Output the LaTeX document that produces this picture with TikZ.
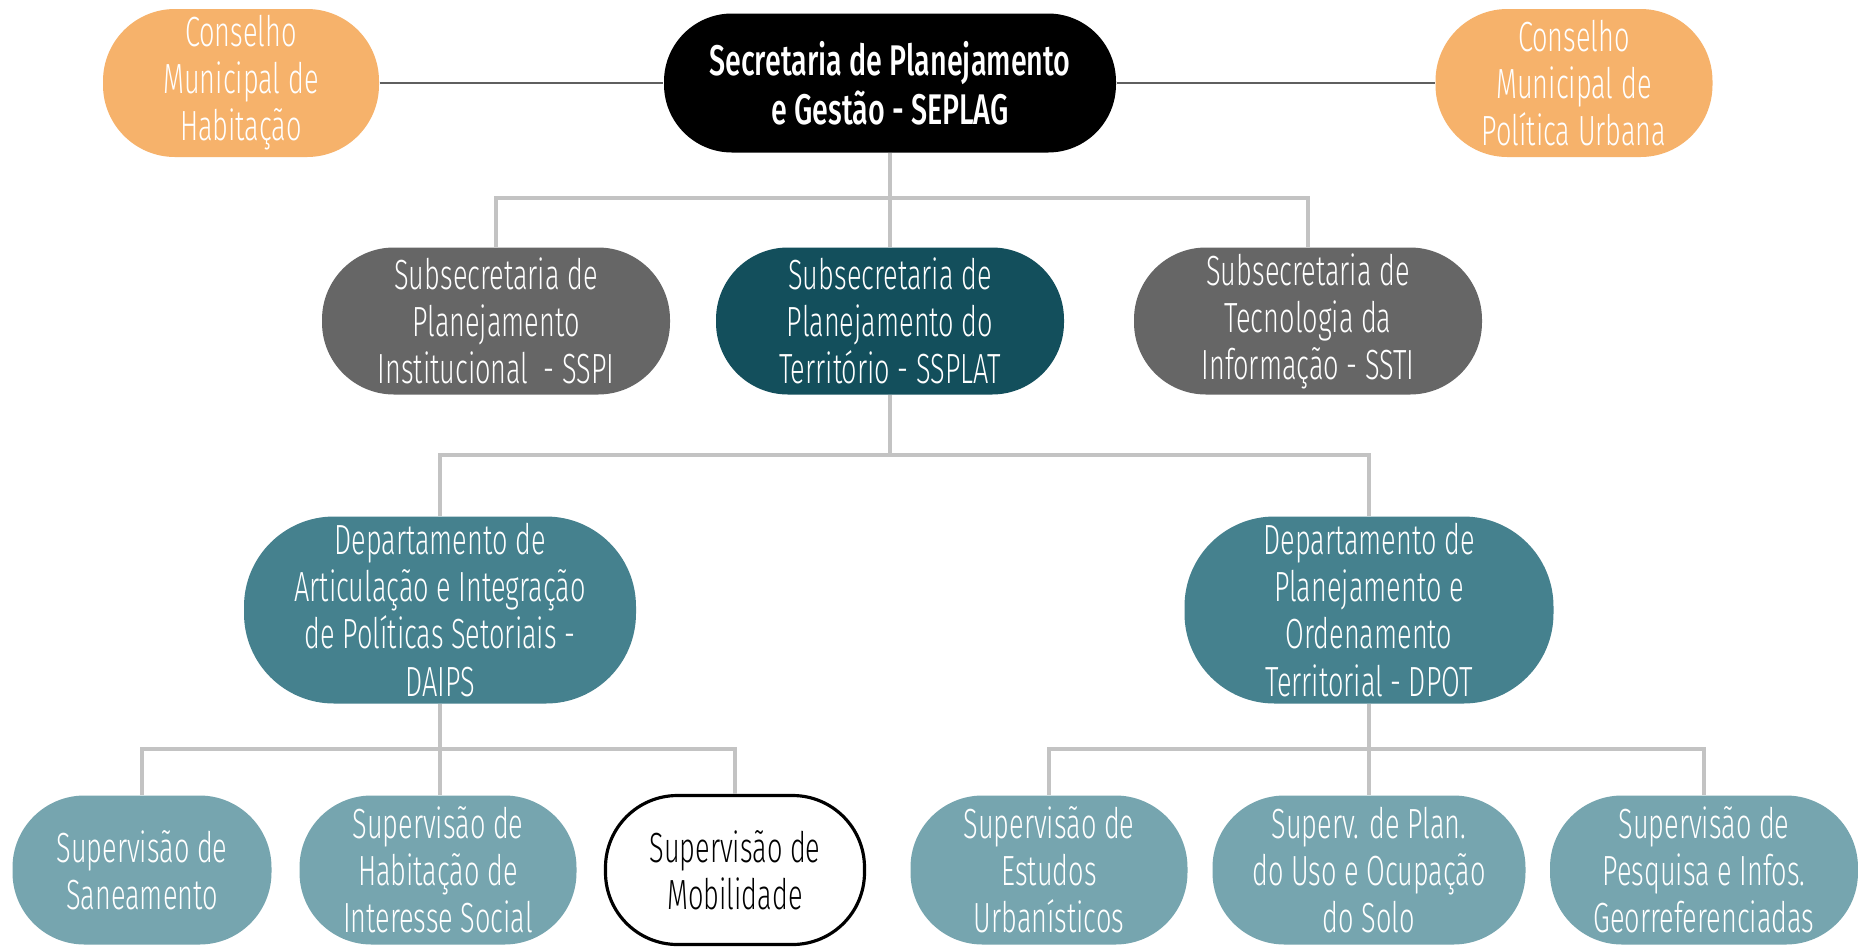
\documentclass[tikz,border=0pt]{standalone}
\usepackage{fontspec}
\setmainfont[FakeStretch=0.643]{Fira Sans Light}
\newfontfamily\headfont[FakeStretch=0.67]{Fira Sans Medium}
\definecolor{orangeC}{HTML}{F6B26B}
\definecolor{grayC}{HTML}{666666}
\definecolor{darkteal}{HTML}{134F5C}
\definecolor{midteal}{HTML}{45818E}
\definecolor{lightteal}{HTML}{76A5AF}
\definecolor{busC}{HTML}{C3C3C3}
\definecolor{sideC}{HTML}{5F5F5F}
\tikzset{
  orgbox/.style={rectangle, align=center, inner sep=0pt, text=white,
    font=\fontsize{12}{13.4}\selectfont},
  toprow/.style={orgbox, minimum height=1.48cm, rounded corners=0.72cm},
  subrow/.style={orgbox, minimum height=1.47cm, minimum width=3.48cm, rounded corners=0.72cm},
  deptrow/.style={orgbox, minimum height=1.87cm, rounded corners=0.9cm, fill=midteal},
  suprow/.style={orgbox, minimum height=1.49cm, rounded corners=0.72cm, fill=lightteal},
  busline/.style={draw=busC, line width=1.1pt},
  sideline/.style={draw=sideC, line width=0.7pt}
}
\begin{document}
\begin{tikzpicture}
\fill[white] (0,0) rectangle (18.58,-9.46);
% top row
\node[toprow, fill=orangeC, minimum width=2.76cm] (cmh) at (2.41,-0.83) {Conselho\\Municipal de\\Habitação};
\node[toprow, fill=black, minimum width=4.52cm, minimum height=1.39cm, rounded corners=0.68cm,
  font=\headfont\fontsize{12.2}{13.8}\selectfont] (seplag) at (8.90,-0.83) {Secretaria de Planejamento\\e Gestão - SEPLAG};
\node[toprow, fill=orangeC, minimum width=2.77cm] (cpu) at (15.74,-0.83) {Conselho\\Municipal de\\Política Urbana};
% second row
\node[subrow, fill=grayC] (sspi) at (4.96,-3.21) {Subsecretaria de\\Planejamento\\Institucional~ - SSPI};
\node[subrow, fill=darkteal] (ssplat) at (8.90,-3.21) {Subsecretaria de\\Planejamento do\\Território - SSPLAT};
\node[subrow, fill=grayC] (ssti) at (13.08,-3.21) {Subsecretaria de\\Tecnologia da\\Informação - SSTI};
% third row
\node[deptrow, minimum width=3.92cm] (daips) at (4.40,-6.10) {Departamento de\\Articulação e Integração\\de Políticas Setoriais -\\DAIPS};
\node[deptrow, minimum width=3.69cm] (dpot) at (13.69,-6.10) {Departamento de\\Planejamento e\\Ordenamento\\Territorial - DPOT};
% fourth row
\node[suprow, minimum width=2.59cm] (san) at (1.42,-8.70) {Supervisão de\\Saneamento};
\node[suprow, minimum width=2.77cm] (hab) at (4.38,-8.70) {Supervisão de\\Habitação de\\Interesse Social};
\node[suprow, minimum width=2.59cm, fill=white, draw=black, line width=0.9pt, text=black] (mob) at (7.35,-8.70) {Supervisão de\\Mobilidade};
\node[suprow, minimum width=2.77cm] (est) at (10.49,-8.70) {Supervisão de\\Estudos\\Urbanísticos};
\node[suprow, minimum width=3.13cm] (suos) at (13.69,-8.70) {Superv. de Plan.\\do Uso e Ocupação\\do Solo};
\node[suprow, minimum width=3.08cm] (pesq) at (17.04,-8.70) {Supervisão de\\Pesquisa e Infos.\\Georreferenciadas};
% junctions
\coordinate (j1) at (8.90,-1.98);
\coordinate (j2) at (8.90,-4.55);
\coordinate (j3) at (4.41,-7.49);
\coordinate (j4) at (13.69,-7.49);
% connectors
\draw[sideline] (cmh.east) -- (seplag.west);
\draw[sideline] (seplag.east) -- (cpu.west);
\draw[busline] (seplag.south) -- (ssplat.north);
\draw[busline] (sspi.north) |- (j1) -| (ssti.north);
\draw[busline] (ssplat.south) -- (j2);
\draw[busline] (daips.north) |- (j2) -| (dpot.north);
\draw[busline] (daips.south) -- (daips.south |- hab.north);
\draw[busline] (san.north) |- (j3) -| (mob.north);
\draw[busline] (dpot.south) -- (suos.north);
\draw[busline] (est.north) |- (j4) -| (pesq.north);
\pgfresetboundingbox
\useasboundingbox (0,0) rectangle (18.58,-9.46);
\end{tikzpicture}
\end{document}
